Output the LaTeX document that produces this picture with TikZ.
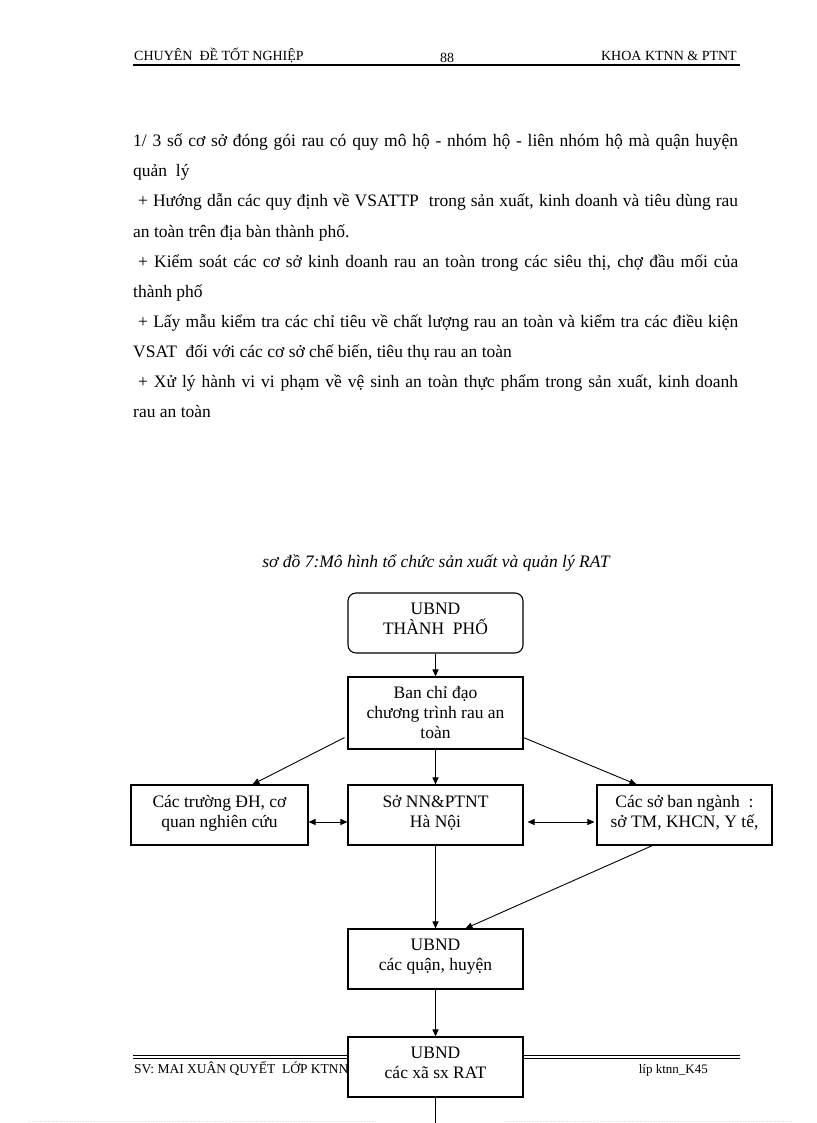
\documentclass[tikz,border=0pt]{standalone}
\usepackage{fontspec}
\setmainfont{Liberation Serif}
\usetikzlibrary{arrows.meta,calc}
\newcommand{\bodyfs}{\fontsize{17.5}{30}\selectfont}
\newcommand{\boxfs}{\fontsize{17.5}{20}\selectfont}
\newcommand{\jline}[1]{\makebox[605pt][s]{#1}}
\tikzset{
  bodytext/.style={anchor=base west, inner sep=0pt, font=\bodyfs},
  hdr/.style={inner sep=0pt, font=\fontsize{14}{16}\selectfont},
  ftr/.style={inner sep=0pt, font=\fontsize{13.5}{15}\selectfont},
  orgbox/.style={draw, line width=1.1pt, fill=white, inner sep=0pt, align=center,
    minimum width=175pt, minimum height=60pt, font=\boxfs},
  arr/.style={line width=0.9pt, -{Triangle[length=7pt,width=6pt]}},
  darr/.style={line width=0.9pt, {Triangle[length=7pt,width=6pt]}-{Triangle[length=7pt,width=6pt]}},
  pagedots/.style={line width=0.7pt, draw=black!15, dotted},
}
\begin{document}
\begin{tikzpicture}[x=1pt,y=-1pt]
\useasboundingbox[fill=white] (0,0) rectangle (816,1123);
% header
\node[hdr, anchor=base west] (h1) at (134,61) {CHUYÊN\ \ ĐỀ TỐT NGHIỆP};
\node[hdr, anchor=base] (h2) at (447,63) {88};
\node[hdr, anchor=base east] (h3) at (737,61) {KHOA KTNN \& PTNT};
\coordinate (hrl) at (133,65.5);
\coordinate (hrr) at (740,65.5);
\draw[line width=2pt] (hrl) -- (hrr);
% body text
\node[bodytext] (t1) at (133,147) {\jline{1/ 3 số cơ sở đóng gói rau có quy mô hộ - nhóm hộ - liên nhóm hộ mà quận huyện}};
\node[bodytext] (t2) at (133,177) {quản\ \ lý};
\node[bodytext] (t3) at (133,207) {\jline{\hspace*{5pt}+ Hướng dẫn các quy định về VSATTP\ \ trong sản xuất, kinh doanh và tiêu dùng rau}};
\node[bodytext] (t4) at (133,237) {an toàn trên địa bàn thành phố.};
\node[bodytext] (t5) at (133,267) {\jline{\hspace*{5pt}+ Kiểm soát các cơ sở kinh doanh rau an toàn trong các siêu thị, chợ đầu mối của}};
\node[bodytext] (t6) at (133,297) {thành phố};
\node[bodytext] (t7) at (133,327) {\jline{\hspace*{5pt}+ Lấy mẫu kiểm tra các chỉ tiêu về chất lượng rau an toàn và kiểm tra các điều kiện}};
\node[bodytext] (t8) at (133,357) {VSAT\ \ đối với các cơ sở chế biến, tiêu thụ rau an toàn};
\node[bodytext] (t9) at (133,387) {\jline{\hspace*{5pt}+ Xử lý hành vi vi phạm về vệ sinh an toàn thực phẩm trong sản xuất, kinh doanh}};
\node[bodytext] (t10) at (133,417) {rau an toàn};
% caption
\node[inner sep=0pt, anchor=base, font=\fontsize{17.5}{19}\selectfont\itshape] (cap) at (436,567) {sơ đồ 7:Mô hình tổ chức sản xuất và quản lý RAT};
% footer (drawn beneath the last box)
\coordinate (fl1) at (133,1055);
\coordinate (fr1) at (740,1055);
\coordinate (fl2) at (133,1058.5);
\coordinate (fr2) at (740,1058.5);
\draw[line width=0.9pt] (fl1) -- (fr1);
\draw[line width=0.9pt] (fl2) -- (fr2);
\node[ftr, anchor=base west] (f1) at (134,1073) {SV: MAI XUÂN QUYẾT\ \ LỚP KTNN};
\node[ftr, anchor=base east, font=\fontsize{13}{15}\selectfont] (f2) at (708,1073) {líp ktnn\_K45};
% page-break dots
\coordinate (d1) at (29,1121.5);
\coordinate (d2) at (375,1121.5);
\coordinate (d3) at (505,1121.5);
\coordinate (d4) at (792,1121.5);
\draw[pagedots] (d1) -- (d2);
\draw[pagedots] (d3) -- (d4);
% boxes
\node[orgbox, rounded corners=8pt] (tp) at (435.5,623) {UBND\\THÀNH\ \ PHỐ\\[-12pt]};
\node[orgbox, minimum height=72pt] (ban) at (435.5,713) {Ban chỉ đạo\\chương trình rau an\\toàn};
\node[orgbox, minimum width=177pt] (tr) at (219.5,815) {Các trường ĐH, cơ\\quan nghiên cứu\\[-13pt]};
\node[orgbox] (so) at (435.5,815) {Sở NN\&PTNT\\Hà Nội\\[-13pt]};
\node[orgbox] (sb) at (684.5,815) {Các sở ban ngành\ \ :\\sở TM, KHCN,\ Y tế,\\[-13pt]};
\node[orgbox] (qh) at (435.5,959) {UBND\\các quận, huyện\\[-12pt]};
\node[orgbox] (xa) at (435.5,1067) {UBND\\các xã sx RAT\\[-12pt]};
\coordinate (pageend) at (435.5,1123);
% connectors
\draw[arr] (tp.south) -- (ban.north);
\draw[arr] (ban.south) -- (so.north);
\draw[arr] ($(ban.south west)+(-3,-12)$) -- ($(tr.north west)+(122,0)$);
\draw[arr] ($(ban.south east)+(0,-12)$) -- ($(sb.north west)+(40,0)$);
\draw[darr] ($(tr.east)+(0,7)$) -- ($(so.west)+(0,7)$);
\draw[darr] ($(so.east)+(4,7)$) -- ($(sb.west)+(-2,7)$);
\draw[arr] (so.south) -- (qh.north);
\draw[arr] ($(sb.south west)+(56,0)$) -- ($(qh.north west)+(118,0)$);
\draw[arr] (qh.south) -- (xa.north);
\draw[line width=0.9pt] (xa.south) -- (pageend);
\end{tikzpicture}
\end{document}
